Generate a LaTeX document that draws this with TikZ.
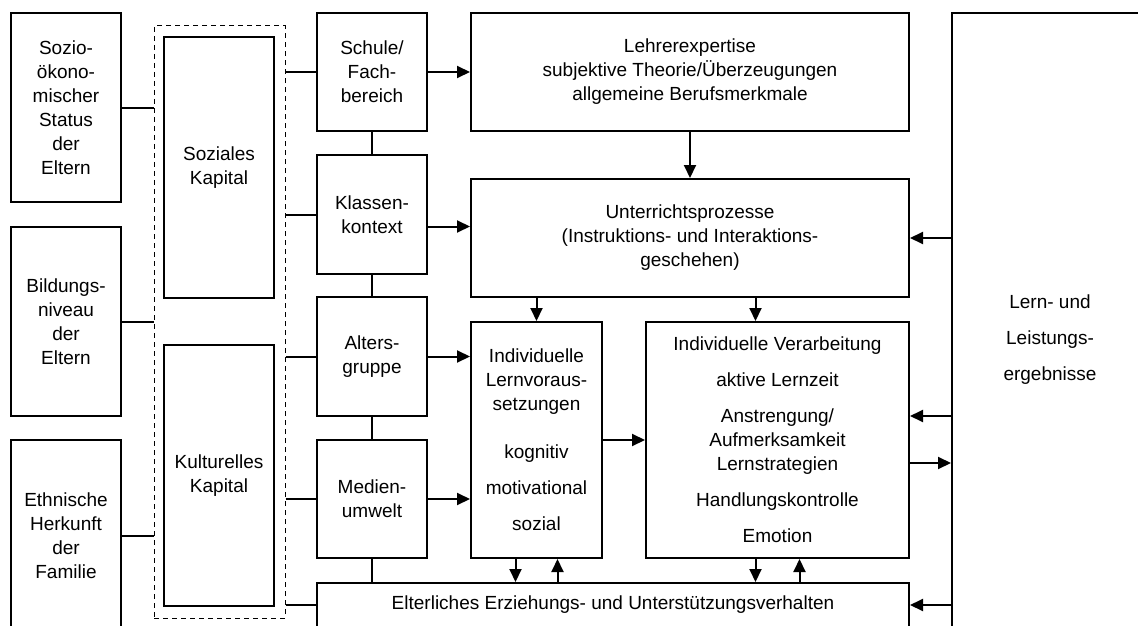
\documentclass[tikz,border=0pt]{standalone}
\usepackage{fontspec}
\setmainfont{Liberation Sans}
\usetikzlibrary{arrows.meta}

\begin{document}
\begin{tikzpicture}[x=1pt,y=-1pt,line width=2pt,
    font=\fontsize{19}{24}\selectfont,
    box/.style={draw,align=center,inner sep=2pt},
    arr/.style={-{Triangle[length=13pt,width=12pt]}}]
        \useasboundingbox (0,0) rectangle (1138,626);
        \clip (0,0) rectangle (1138,626);
        % left column: family background
        \node[box,minimum width=110pt,minimum height=189pt] (sozio) at (66,107.5) {Sozio-\\ökono-\\mischer\\Status\\der\\Eltern};
        \node[box,minimum width=110pt,minimum height=189pt] (bildung) at (66,321.5) {Bildungs-\\niveau\\der\\Eltern};
        \node[box,minimum width=110pt,minimum height=192pt] (ethnie) at (66,536) {Ethnische\\Herkunft\\der\\Familie};
        % capital (dashed frame)
        \node[draw,line width=1pt,dash pattern=on 5pt off 4pt,minimum width=131pt,minimum height=592pt] (kapital) at (219.5,322) {};
        \node[box,minimum width=110pt,minimum height=261pt] (sozkap) at (219,167.5) {Soziales\\Kapital};
        \node[box,minimum width=110pt,minimum height=261pt] (kultkap) at (219,475.5) {Kulturelles\\Kapital};
        % context column
        \node[box,minimum width=110pt,minimum height=118pt] (schule) at (372,72) {Schule/\\Fach-\\bereich};
        \node[box,minimum width=110pt,minimum height=119pt] (klasse) at (372,214.5) {Klassen-\\kontext};
        \node[box,minimum width=110pt,minimum height=119pt] (alter) at (372,356.5) {Alters-\\gruppe};
        \node[box,minimum width=110pt,minimum height=118pt] (medien) at (372,499) {Medien-\\umwelt};
        % teaching and learning
        \node[box,minimum width=438pt,minimum height=118pt] (lehrer) at (690,72) {Lehrerexpertise\\subjektive Theorie/Überzeugungen\\allgemeine Berufsmerkmale};
        \node[box,minimum width=438pt,minimum height=118pt] (unterricht) at (690,238) {Unterrichtsprozesse\\(Instruktions- und Interaktions-\\geschehen)};
        \node[box,minimum width=131pt,minimum height=236pt] (lernvor) at (536.5,440) {Individuelle\\Lernvoraus-\\setzungen\\[24pt]kognitiv\\[12pt]motivational\\[12pt]sozial};
        \node[box,minimum width=263pt,minimum height=236pt] (verarb) at (777.5,440) {Individuelle Verarbeitung\\[12pt]aktive Lernzeit\\[12pt]Anstrengung/\\Aufmerksamkeit\\Lernstrategien\\[12pt]Handlungskontrolle\\[12pt]Emotion};
        \node[box,minimum width=592pt,minimum height=44pt] (eltern) at (613,605) {Elterliches Erziehungs- und Unterstützungsverhalten};
        \node[box,minimum width=196pt,minimum height=654pt] (lern) at (1050,340) {Lern- und\\[12pt]Leistungs-\\[12pt]ergebnisse};
        % plain connectors
        \foreach \n in {sozio,bildung,ethnie}
        \draw (\n.east) -- (\n.east -| kapital.west);
        \foreach \n in {schule,klasse,alter,medien,eltern}
        \draw (kapital.east |- \n.west) -- (\n.west);
        \draw (schule) -- (klasse);
        \draw (klasse) -- (alter);
        \draw (alter) -- (medien);
        \draw (medien.south) -- (medien.south |- eltern.north);
        % arrows
        \coordinate (k1) at ([yshift=-12pt]klasse.east);
        \draw[arr] (schule.east) -- (schule.east -| lehrer.west);
        \draw[arr] (k1) -- (k1 -| unterricht.west);
        \draw[arr] (alter.east) -- (alter.east -| lernvor.west);
        \draw[arr] (medien.east) -- (medien.east -| lernvor.west);
        \draw[arr] (lehrer) -- (unterricht);
        \draw[arr] (lernvor.north |- unterricht.south) -- (lernvor.north);
        \coordinate (v1) at ([xshift=-22pt]verarb.north);
        \draw[arr] (v1 |- unterricht.south) -- (v1);
        \draw[arr] (lernvor) -- (verarb);
        \coordinate (lv1) at ([xshift=-21pt]lernvor.south);
        \coordinate (lv2) at ([xshift=21pt]lernvor.south);
        \coordinate (va1) at ([xshift=-22pt]verarb.south);
        \coordinate (va2) at ([xshift=22pt]verarb.south);
        \draw[arr] (lv1) -- (lv1 |- eltern.north);
        \draw[arr] (lv2 |- eltern.north) -- (lv2);
        \draw[arr] (va1) -- (va1 |- eltern.north);
        \draw[arr] (va2 |- eltern.north) -- (va2);
        % feedback from results
        \coordinate (r1) at ([yshift=24pt]verarb.east);
        \coordinate (r2) at ([yshift=-23pt]verarb.east);
        \draw[arr] (lern.west |- unterricht.east) -- (unterricht.east);
        \draw[arr] (r1 -| lern.west) -- (r1);
        \draw[arr] (r2) -- (r2 -| lern.west);
        \draw[arr] (lern.west |- eltern.east) -- (eltern.east);
\end{tikzpicture}
\end{document}
